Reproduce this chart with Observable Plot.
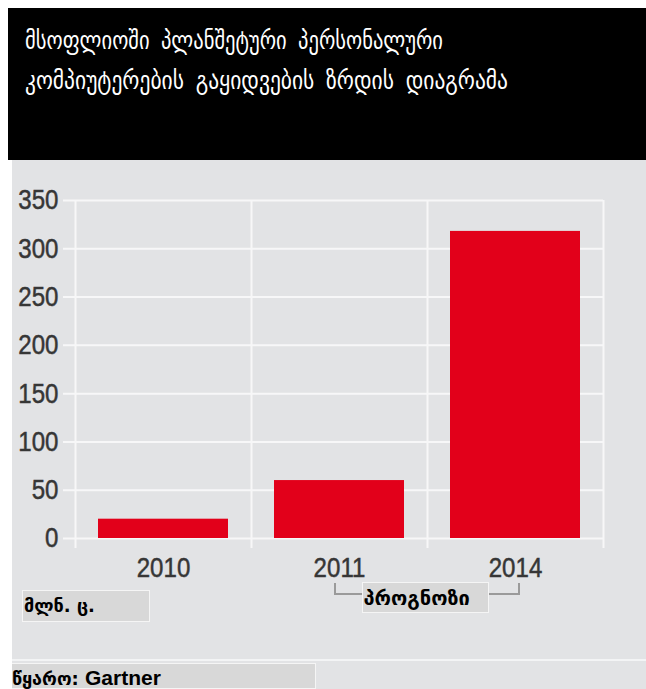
<!DOCTYPE html>
<html>
<head>
<meta charset="utf-8">
<script src="https://cdn.jsdelivr.net/npm/d3@7"></script>
<script src="https://cdn.jsdelivr.net/npm/@observablehq/plot@0.6"></script>
<style>
  body { margin: 0; background: #fff; }
  #wrap { position: relative; width: 646px; height: 689px; overflow: hidden; font-family: "DejaVu Sans", sans-serif; }
  #head { position: absolute; left: 8px; top: 8px; width: 638px; height: 152px; background: #000; color: #fff;
          box-sizing: border-box; padding: 12px 0 0 17px; font-size: 26px; line-height: 40px; word-spacing: 6px; white-space: nowrap; }
  #head div { transform-origin: 0 50%; width: max-content; }
  #panel { position: absolute; left: 12px; top: 160px; width: 634px; height: 529px; background: #e2e3e5; }
  #sep { position: absolute; left: 12px; top: 659px; width: 634px; height: 2px; background: #f3f4f5; }
  #chart { position: absolute; left: 0; top: 160px; }
  .box { position: absolute; background: #d8d8d8; border: 1px solid #f5f5f5; box-sizing: border-box; color: #000; white-space: nowrap; }
  #unit { left: 22px; top: 590px; width: 128px; height: 32px; font-size: 18px; line-height: 30px; padding-left: 1px; font-weight: bold; }
  #fc { top: 582px; width: 127px; height: 31px; font-size: 20px; line-height: 30px; padding-left: 1px; font-weight: bold; }
  #src { left: 12px; top: 663px; width: 304px; height: 26px; font-size: 18px; line-height: 26px; font-weight: bold; border-left: none;
         padding-top: 1px; }
  #src .lat { font-family: "Liberation Sans", Arial, sans-serif; font-size: 21px; }
</style>
</head>
<body>
<div id="wrap">
  <div id="head"></div>
  <div id="panel"></div>
  <div id="sep"></div>
  <div id="chart"></div>
  <div id="unit" class="box"></div>
  <div id="fc" class="box"></div>
  <div id="src" class="box"></div>
</div>
<script>
// ---- data ----
const titleLines = ["მსოფლიოში პლანშეტური პერსონალური", "კომპიუტერების გაყიდვების ზრდის დიაგრამა"];
const years = ["2010", "2011", "2014"];
const sales = [20, 60, 318];
const yTicks = [0, 50, 100, 150, 200, 250, 300, 350];
const unitLabel = "მლნ. ც.";
const forecastLabel = "პროგნოზი";
const forecastYears = ["2011", "2014"];
const sourcePrefix = "წყარო: ";
const sourceName = "Gartner";

// ---- text ----
const head = document.getElementById("head");
head.innerHTML = titleLines.map(t => `<div>${t}</div>`).join("");
const titleWidths = [418, 483];
[...head.children].forEach((el, i) => {
  const w = el.getBoundingClientRect().width;
  el.style.transform = `scaleX(${titleWidths[i] / w})`;
});
document.getElementById("unit").textContent = unitLabel;
document.getElementById("fc").textContent = forecastLabel;
document.getElementById("src").innerHTML = `${sourcePrefix}<span class="lat">${sourceName}</span>`;

// ---- chart ----
const data = years.map((y, i) => ({year: y, value: sales[i]}));
const W = 646, H = 420, mL = 75, mR = 43, mT = 40, mB = 42;
const step = (W - mL - mR) / years.length;
const gridColor = "#f7f7f8";

const chart = Plot.plot({
  width: W, height: H,
  marginLeft: mL, marginRight: mR, marginTop: mT, marginBottom: mB,
  style: {background: "transparent", fontFamily: "'Liberation Sans', Arial, sans-serif",
          fontSize: "28px", color: "#363636", overflow: "visible"},
  x: {domain: years, padding: 0, label: null, tickSize: 0, tickPadding: 19},
  y: {domain: [0, 350], ticks: yTicks, label: null, tickSize: 0, tickPadding: 17},
  marks: [
    Plot.ruleY(yTicks, {stroke: gridColor, strokeWidth: 2, insetLeft: -12}),
    Plot.ruleX(years, {x: d => d, y1: 350, y2: 0, dx: -step / 2, insetBottom: -10, stroke: gridColor, strokeWidth: 2}),
    Plot.ruleX(years.slice(-1), {x: d => d, y1: 350, y2: 0, dx: step / 2, insetBottom: -10, stroke: gridColor, strokeWidth: 2}),
    Plot.barY(data, {x: "year", y: "value", fill: "#e2001a", insetLeft: 23, insetRight: 23})
  ]
});
document.getElementById("chart").appendChild(chart);
document.body.offsetHeight;

// condense the axis digits horizontally (narrow grotesque look of the original)
d3.select(chart).selectAll("[aria-label$='tick label'] text")
  .each(function () {
    const b = this.getBBox();
    const anchor = getComputedStyle(this).textAnchor;
    const ax = anchor === "end" ? b.x + b.width : anchor === "start" ? b.x : b.x + b.width / 2;
    const tr = this.getAttribute("transform") || "";
    this.setAttribute("transform", `${tr} translate(${ax},0) scale(0.86,1) translate(${-ax},0)`);
    this.setAttribute("stroke", "#363636");
    this.setAttribute("stroke-width", "0.5");
  });

// forecast bracket beneath the 2011 and 2014 labels, positioned with the x scale
const xs = chart.scale("x");
const cx = k => xs.apply(k) + xs.bandwidth / 2;
const x1 = cx(forecastYears[0]) - 4, x2 = cx(forecastYears[1]) + 4;
const yTop = 423, yBot = 434;
d3.select(chart).append("path")
  .attr("d", `M${x1},${yTop}V${yBot}H${x2}V${yTop}`)
  .attr("fill", "none").attr("stroke", "#9a9a9a").attr("stroke-width", 2);
const fc = document.getElementById("fc");
fc.style.left = ((x1 + x2) / 2 - 127 / 2 - 2) + "px";
</script>
</body>
</html>
